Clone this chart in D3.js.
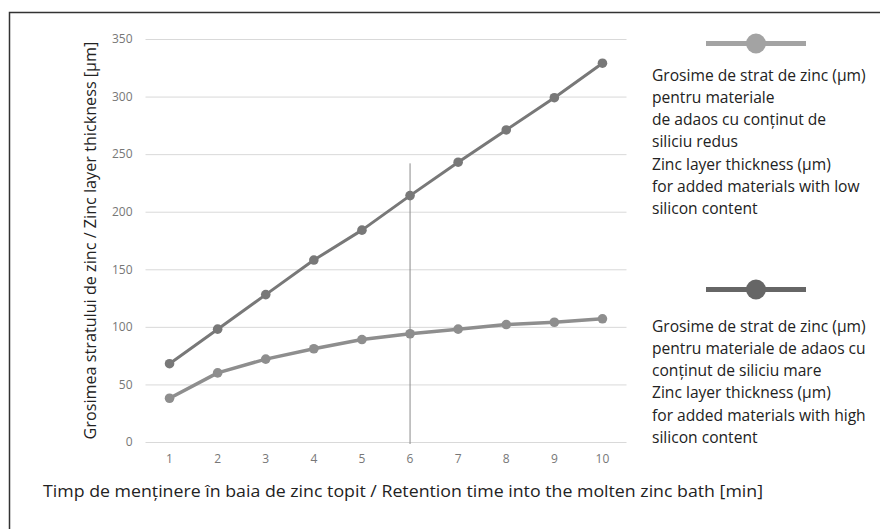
<!DOCTYPE html>
<html><head><meta charset="utf-8">
<script src="https://cdn.jsdelivr.net/npm/d3@7"></script>
<style>
html,body{margin:0;padding:0;background:#fff;}
svg{display:block;font-family:"Open Sans",sans-serif;}
</style></head>
<body><div id="chart"></div>
<script>
const categories = [1,2,3,4,5,6,7,8,9,10];
const highSilicon = [68,98,128,158,184,214,243,271,299,329];
const lowSilicon = [38,60,72,81,89,94,98,102,104,107];
const yTicks = [0,50,100,150,200,250,300,350];
const markerCategory = 6;
const markerTop = 242;
const legendLow = ["Grosime de strat de zinc (µm)","pentru materiale","de adaos cu conținut de","siliciu redus","Zinc layer thickness (µm)","for added materials with low","silicon content"];
const legendHigh = ["Grosime de strat de zinc (µm)","pentru materiale de adaos cu","conținut de siliciu mare","Zinc layer thickness (µm)","for added materials with high","silicon content"];
const yTitle = "Grosimea stratului de zinc / Zinc layer thickness [µm]";
const xTitle = "Timp de menținere în baia de zinc topit / Retention time into the molten zinc bath [min]";

const W = 880, H = 529;
const svg = d3.select("#chart").append("svg").attr("width", W).attr("height", H);

// frame
svg.append("path").attr("d", "M9.5,"+H+"V12.5H"+W).attr("fill","none").attr("stroke","#333").attr("stroke-width",1.5);

const x = d3.scaleBand().domain(categories).range([145.5, 626.5]);
const y = d3.scaleLinear().domain([0,350]).range([442, 39]);

const g = svg.append("g");
// gridlines
g.append("g").attr("transform","translate(145.5,0)")
  .call(d3.axisLeft(y).tickValues(yTicks).tickSize(-481).tickPadding(13).tickFormat(d3.format("d")))
  .call(a => a.select(".domain").remove())
  .call(a => a.selectAll("line").attr("stroke","#d9d9d9").attr("stroke-width",1))
  .call(a => a.selectAll("text").attr("fill","#777").style("font-size","12px").style("font-family","'Open Sans',sans-serif"));

g.append("g").attr("transform","translate(0,442)")
  .call(d3.axisBottom(x).tickSize(0).tickPadding(12))
  .call(a => a.select(".domain").remove())
  .call(a => a.selectAll("text").attr("fill","#777").style("font-size","12px").style("font-family","'Open Sans',sans-serif"));

// vertical marker line
const xc = d => x(d) + x.bandwidth()/2;
g.append("line").attr("x1", xc(markerCategory)).attr("x2", xc(markerCategory))
  .attr("y1", y(markerTop)).attr("y2", y(0)+2).attr("stroke","#8a8a8a").attr("stroke-width",1);

const line = d3.line().x((d,i)=>xc(categories[i])).y(d=>y(d));
function series(vals, color, w) {
  g.append("path").datum(vals).attr("d", line).attr("fill","none").attr("stroke",color).attr("stroke-width",w).attr("stroke-linejoin","round");
  g.selectAll(null).data(vals).enter().append("circle")
    .attr("cx",(d,i)=>xc(categories[i])).attr("cy",d=>y(d)).attr("r",4.8).attr("fill",color);
}
series(lowSilicon, "#8e8e8e", 3.5);
series(highSilicon, "#787878", 3);

// legends
function legend(y0, color, lines, textY) {
  svg.append("line").attr("x1",706).attr("x2",806).attr("y1",y0).attr("y2",y0).attr("stroke",color).attr("stroke-width",5);
  svg.append("circle").attr("cx",756).attr("cy",y0).attr("r",10).attr("fill",color);
  const t = svg.append("text").attr("x",652).attr("y",textY).attr("fill","#222").style("font-size","15.6px");
  lines.forEach((l,i)=> t.append("tspan").attr("x",652).attr("y", textY + i*22.3).text(l));
}
legend(43.5, "#a3a3a3", legendLow, 80.5);
legend(289.5, "#666666", legendHigh, 331.5);

// axis titles
svg.append("text").attr("transform","translate(96,240.5) rotate(-90)").attr("text-anchor","middle")
  .attr("fill","#222").style("font-size","16.2px").text(yTitle);
svg.append("text").attr("x",43).attr("y",497).attr("fill","#222").style("font-size","16.2px")
  .attr("textLength",720).attr("lengthAdjust","spacingAndGlyphs").text(xTitle);
</script></body></html>
